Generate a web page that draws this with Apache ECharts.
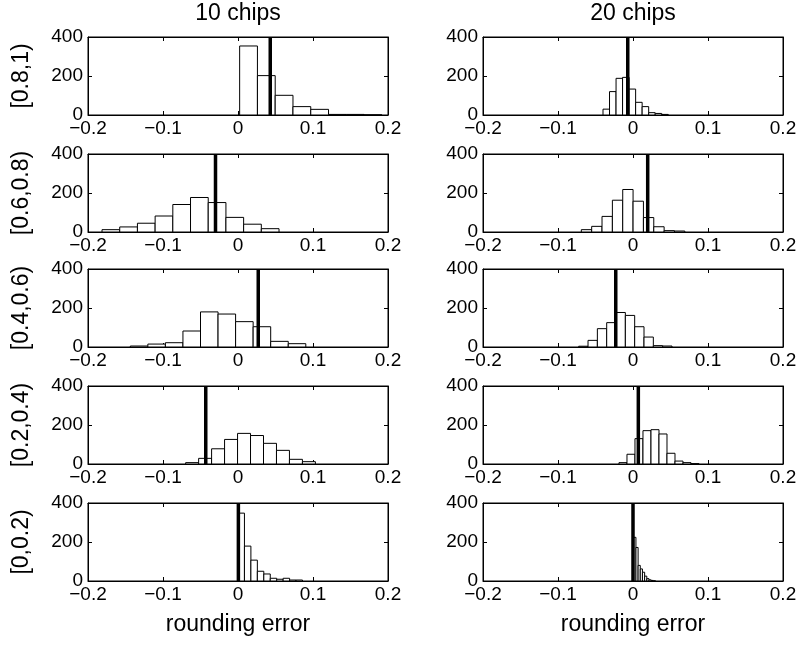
<!DOCTYPE html>
<html>
<head>
<meta charset="utf-8">
<script src="https://cdn.jsdelivr.net/npm/echarts@6/dist/echarts.min.js"></script>
<style>
  html, body { margin: 0; padding: 0; background: #fff; }
  #chart { width: 803px; height: 645px; }
</style>
</head>
<body>
<div id="chart"></div>
<script>
// labels
const colTitles = ['10 chips', '20 chips'];
const rowLabels = ['[0.8,1)', '[0.6,0.8)', '[0.4,0.6)', '[0.2,0.4)', '[0,0.2)'];
const xName = 'rounding error';
const xMin = -0.2, xMax = 0.2, xStep = 0.1;
const yMin = 0, yMax = 400, yStep = 200;

// 10 chips column, rows top to bottom
const binStart10 = [0.0022, -0.1813, -0.1436, -0.0698, 0.0];
const binWidth10 = [0.0237, 0.0236, 0.0234, 0.0173, 0.0086];
const counts10 = [
  [354, 202, 101, 43, 29, 3, 3, 1],
  [12, 26, 45, 82, 141, 177, 151, 75, 40, 17],
  [5, 15, 22, 82, 180, 169, 130, 104, 29, 17],
  [7, 29, 78, 126, 157, 146, 106, 70, 24, 12],
  [348, 179, 107, 50, 36, 14, 9, 14, 5, 5]
];
const meanLine10 = [0.043, -0.030, 0.027, -0.043, 0.0005];

// 20 chips column
const binStart20 = [-0.040, -0.0689, -0.0724, -0.0187, 0.001];
const binWidth20 = [0.0087, 0.0138, 0.01244, 0.01067, 0.0029];
const counts20 = [
  [30, 120, 188, 193, 133, 65, 43, 12, 8, 3],
  [12, 29, 80, 163, 218, 158, 74, 27, 7, 5],
  [4, 34, 94, 125, 177, 162, 104, 51, 7, 5],
  [7, 50, 130, 171, 176, 154, 55, 15, 7, 2],
  [224, 172, 80, 62, 45, 25, 12, 6, 3, 1]
];
const meanLine20 = [-0.007, 0.0196, -0.023, 0.0071, 0.0];

const FONT = "'Liberation Sans', Arial, Helvetica, sans-serif";
const gridLeft = [88, 483];
const gridTop = [37, 154, 269, 386, 503];
const gridW = 300, gridH = 78;

const cols = [
  { start: binStart10, width: binWidth10, counts: counts10, mean: meanLine10 },
  { start: binStart20, width: binWidth20, counts: counts20, mean: meanLine20 }
];

function fmtX(v) {
  const r = Math.round(v * 10) / 10;
  return r < 0 ? '\u2212' + Math.abs(r) : String(r);
}

const grids = [], xAxes = [], yAxes = [], series = [];

function renderBar(params, api) {
  const p0 = api.coord([api.value(0), api.value(2)]);
  const p1 = api.coord([api.value(1), 0]);
  return {
    type: 'rect',
    shape: { x: p0[0], y: p0[1], width: p1[0] - p0[0], height: p1[1] - p0[1] },
    style: { fill: '#fff', stroke: '#000', lineWidth: 1 }
  };
}

for (let r = 0; r < 5; r++) {
  for (let c = 0; c < 2; c++) {
    const k = grids.length;
    grids.push({
      left: gridLeft[c], top: gridTop[r], width: gridW, height: gridH,
      show: true, borderColor: '#000', borderWidth: 1, backgroundColor: '#fff'
    });
    const axLine = { show: true, onZero: false, lineStyle: { color: '#000', width: 1 } };
    const tick = { show: true, inside: true, length: 4, lineStyle: { color: '#000' } };
    xAxes.push({
      type: 'value', gridIndex: k, min: xMin, max: xMax, interval: xStep,
      axisLine: axLine, axisTick: tick, splitLine: { show: false },
      axisLabel: { color: '#000', fontSize: 19, fontFamily: FONT, margin: 4, formatter: fmtX },
      name: r === 4 ? xName : '', nameLocation: 'middle', nameGap: 32,
      nameTextStyle: { color: '#000', fontSize: 23, fontFamily: FONT }
    });
    xAxes.push({
      type: 'value', gridIndex: k, position: 'top', min: xMin, max: xMax, interval: xStep,
      axisLine: axLine, axisTick: tick, splitLine: { show: false },
      axisLabel: { show: false },
      name: r === 0 ? colTitles[c] : '', nameLocation: 'middle', nameGap: 12,
      nameTextStyle: { color: '#000', fontSize: 23, fontFamily: FONT }
    });
    yAxes.push({
      type: 'value', gridIndex: k, min: yMin, max: yMax, interval: yStep,
      axisLine: axLine, axisTick: tick, splitLine: { show: false },
      axisLabel: { color: '#000', fontSize: 19, fontFamily: FONT, margin: 5 },
      name: c === 0 ? rowLabels[r] : '', nameLocation: 'middle', nameRotate: 90, nameGap: 55,
      nameTextStyle: { color: '#000', fontSize: 23, fontFamily: FONT }
    });
    yAxes.push({
      type: 'value', gridIndex: k, position: 'right', min: yMin, max: yMax, interval: yStep,
      axisLine: axLine, axisTick: tick, splitLine: { show: false },
      axisLabel: { show: false }
    });

    const col = cols[c];
    const bars = col.counts[r].map((n, i) => {
      const x0 = col.start[r] + i * col.width[r];
      return [x0, x0 + col.width[r], n];
    });
    series.push({
      type: 'custom', xAxisIndex: 2 * k, yAxisIndex: 2 * k,
      renderItem: renderBar, encode: { x: [0, 1], y: 2 }, data: bars, silent: true, z: 2
    });
    series.push({
      type: 'line', xAxisIndex: 2 * k, yAxisIndex: 2 * k,
      data: [[col.mean[r], yMin], [col.mean[r], yMax]],
      symbol: 'none', silent: true, z: 3,
      lineStyle: { color: '#000', width: 3.5 }
    });
  }
}

const chart = echarts.init(document.getElementById('chart'));
chart.setOption({
  animation: false,
  backgroundColor: '#fff',
  grid: grids,
  xAxis: xAxes,
  yAxis: yAxes,
  series: series
});
</script>
</body>
</html>
